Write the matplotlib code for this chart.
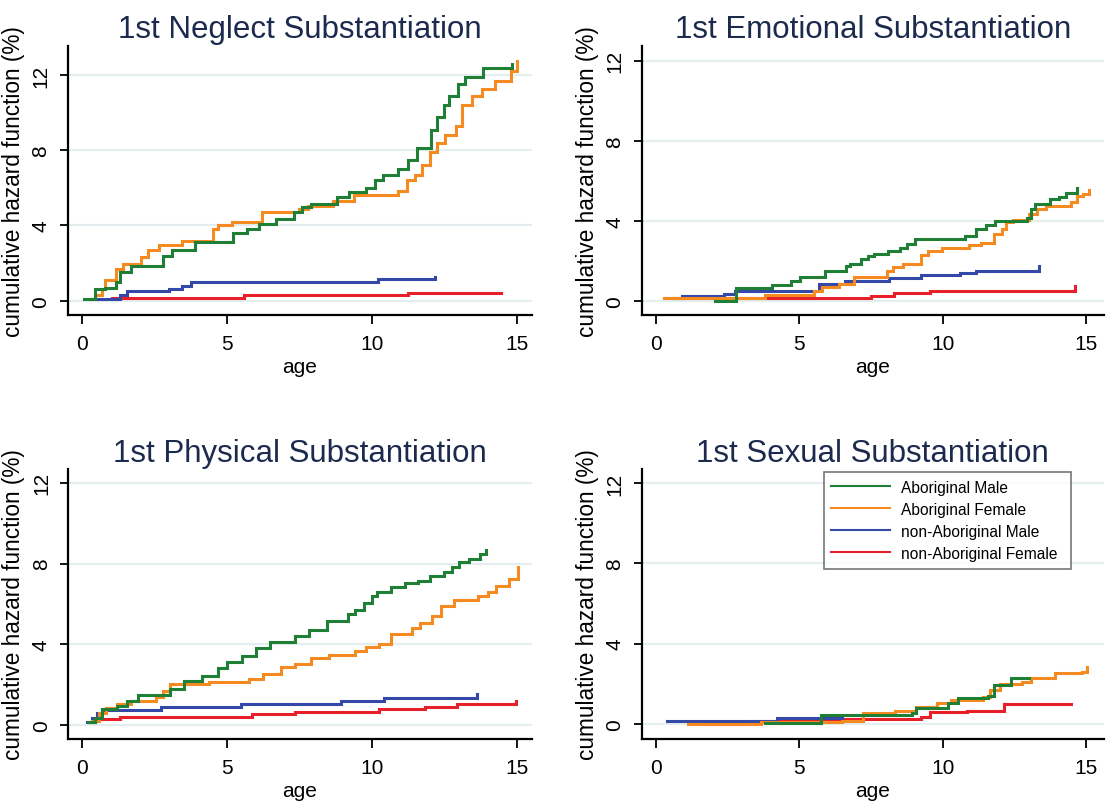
import matplotlib
matplotlib.use("Agg")
import matplotlib.pyplot as plt

plt.rcParams['font.family'] = ['Liberation Sans', 'DejaVu Sans']

# ---------------- data (step functions: age, cumulative hazard %) ----------------
series_names = ["Aboriginal Male", "Aboriginal Female", "non-Aboriginal Male", "non-Aboriginal Female"]
series_colors = ["#1f7f35", "#f58a20", "#3448a8", "#e8202a"]
panel_titles = ["1st Neglect Substantiation", "1st Emotional Substantiation",
                "1st Physical Substantiation", "1st Sexual Substantiation"]
x_ticks = [0, 5, 10, 15]
y_ticks = [0, 4, 8, 12]
x_label = "age"
y_label = "cumulative hazard function (%)"

# Neglect
neglect_am_age = [0.07, 0.45, 0.8, 1.18, 1.3, 1.67, 2.8, 3.1, 3.9, 5.2, 5.7, 6.1, 6.7, 7.3, 7.6, 7.9, 8.8, 9.2, 9.8, 10.1, 10.4, 10.9, 11.25, 11.56, 12.05, 12.24, 12.5, 12.67, 12.97, 13.2, 13.83, 14.85]
neglect_am_val = [0.1, 0.6, 0.7, 1.0, 1.5, 1.85, 2.4, 2.7, 3.1, 3.6, 3.8, 4.1, 4.35, 4.7, 5.0, 5.15, 5.5, 5.8, 6.0, 6.4, 6.7, 7.0, 7.5, 8.1, 9.1, 9.75, 10.4, 10.9, 11.5, 11.9, 12.35, 12.6]
neglect_af_age = [0.44, 0.69, 0.8, 1.18, 1.42, 2.04, 2.28, 2.65, 3.45, 4.5, 4.68, 5.17, 6.2, 7.5, 7.8, 8.67, 9.4, 10.9, 11.2, 11.5, 11.74, 12.0, 12.24, 12.54, 12.9, 13.1, 13.46, 13.8, 14.26, 14.8, 15.0]
neglect_af_val = [0.3, 0.6, 1.1, 1.7, 1.96, 2.3, 2.7, 2.94, 3.15, 3.8, 4.0, 4.2, 4.7, 4.9, 5.06, 5.3, 5.6, 5.86, 6.4, 6.7, 7.2, 7.9, 8.4, 8.8, 9.3, 10.4, 10.9, 11.25, 11.7, 12.2, 12.75]
neglect_nm_age = [0.26, 1.3, 1.55, 3.0, 3.45, 3.76, 10.2, 12.17]
neglect_nm_val = [0.1, 0.3, 0.5, 0.64, 0.8, 1.0, 1.13, 1.25]
neglect_nf_age = [1.03, 5.6, 11.25, 14.45]
neglect_nf_val = [0.14, 0.32, 0.42, 0.42]

# Emotional
emotional_am_age = [2.05, 2.81, 4.05, 4.7, 5.04, 5.9, 6.64, 6.77, 7.14, 7.4, 7.6, 8.1, 8.5, 8.74, 9.05, 10.78, 11.15, 11.5, 11.83, 12.94, 13.06, 13.2, 13.74, 14.05, 14.3, 14.67]
emotional_am_val = [0.0, 0.65, 0.8, 1.0, 1.18, 1.5, 1.76, 1.85, 2.1, 2.26, 2.35, 2.5, 2.67, 2.84, 3.12, 3.26, 3.62, 3.8, 4.0, 4.12, 4.6, 4.84, 5.1, 5.2, 5.4, 5.63]
emotional_af_age = [0.28, 3.8, 5.53, 5.8, 6.4, 6.9, 8.06, 8.25, 8.6, 9.23, 9.48, 9.98, 10.9, 11.33, 11.77, 12.07, 12.2, 12.44, 13.0, 13.3, 13.6, 14.48, 14.67, 14.9, 15.1]
emotional_af_val = [0.17, 0.3, 0.5, 0.68, 0.85, 1.18, 1.5, 1.68, 1.85, 2.3, 2.5, 2.67, 2.8, 2.92, 3.34, 3.6, 3.92, 4.04, 4.34, 4.6, 4.72, 4.92, 5.25, 5.33, 5.55]
emotional_nm_age = [0.6, 0.9, 2.38, 2.75, 5.7, 6.58, 8.12, 9.23, 10.6, 11.15, 13.25, 13.37]
emotional_nm_val = [0.13, 0.27, 0.35, 0.52, 0.85, 0.98, 1.13, 1.3, 1.4, 1.5, 1.5, 1.76]
emotional_nf_age = [0.78, 7.5, 8.3, 9.54, 14.54, 14.6]
emotional_nf_val = [0.13, 0.27, 0.4, 0.52, 0.52, 0.76]

# Physical
physical_am_age = [0.2, 0.44, 0.69, 1.18, 1.55, 1.92, 3.03, 3.52, 4.14, 4.69, 5.0, 5.5, 6.0, 6.48, 7.34, 7.83, 8.45, 9.19, 9.43, 9.74, 10.0, 10.17, 10.67, 11.16, 11.6, 12.0, 12.5, 12.76, 13.0, 13.37, 13.74, 13.93]
physical_am_val = [0.12, 0.36, 0.78, 0.94, 1.2, 1.5, 1.77, 2.19, 2.44, 2.8, 3.1, 3.43, 3.8, 4.1, 4.4, 4.72, 5.17, 5.5, 5.72, 6.05, 6.4, 6.6, 6.83, 7.04, 7.16, 7.4, 7.57, 7.82, 8.07, 8.24, 8.49, 8.65]
physical_af_age = [0.32, 0.57, 0.81, 1.18, 1.67, 2.54, 2.78, 3.03, 4.38, 5.74, 6.23, 6.85, 7.34, 7.9, 8.5, 9.43, 9.8, 10.23, 10.67, 11.4, 11.65, 12.08, 12.39, 12.82, 13.68, 14.0, 14.3, 14.73, 15.04]
physical_af_val = [0.2, 0.61, 0.83, 1.03, 1.19, 1.36, 1.66, 2.02, 2.14, 2.3, 2.52, 2.85, 3.02, 3.3, 3.46, 3.68, 3.85, 4.0, 4.5, 4.8, 5.06, 5.42, 5.92, 6.17, 6.41, 6.61, 6.91, 7.24, 7.82]
physical_nm_age = [0.14, 0.32, 0.5, 0.69, 2.72, 5.49, 8.94, 10.42, 13.55, 13.62]
physical_nm_val = [0.15, 0.36, 0.61, 0.75, 0.91, 1.03, 1.19, 1.31, 1.31, 1.52]
physical_nf_age = [0.26, 0.44, 1.3, 5.86, 7.34, 10.23, 11.83, 12.94, 14.9, 14.98]
physical_nf_val = [0.12, 0.28, 0.41, 0.53, 0.66, 0.78, 0.91, 1.03, 1.03, 1.19]

# Sexual
sexual_am_age = [3.8, 5.75, 8.94, 9.07, 10.17, 10.54, 11.58, 11.77, 12.38, 13.0]
sexual_am_val = [0.03, 0.45, 0.53, 0.81, 1.03, 1.28, 1.39, 1.94, 2.27, 2.3]
sexual_af_age = [1.14, 3.66, 6.49, 7.22, 8.33, 9.07, 9.8, 10.3, 11.4, 11.65, 12.0, 12.75, 13.06, 13.92, 14.84, 15.02]
sexual_af_val = [0.0, 0.12, 0.15, 0.53, 0.65, 0.86, 1.03, 1.19, 1.36, 1.69, 1.99, 2.1, 2.3, 2.52, 2.6, 2.85]
sexual_nm_age = [0.4, 4.21, 6.49]
sexual_nm_val = [0.15, 0.28, 0.28]
sexual_nf_age = [1.7, 3.17, 6.49, 9.25, 9.56, 10.85, 12.14, 14.47]
sexual_nf_val = [0.0, 0.15, 0.25, 0.36, 0.58, 0.66, 0.98, 0.98]

panel_data = [
    [(neglect_am_age, neglect_am_val), (neglect_af_age, neglect_af_val),
     (neglect_nm_age, neglect_nm_val), (neglect_nf_age, neglect_nf_val)],
    [(emotional_am_age, emotional_am_val), (emotional_af_age, emotional_af_val),
     (emotional_nm_age, emotional_nm_val), (emotional_nf_age, emotional_nf_val)],
    [(physical_am_age, physical_am_val), (physical_af_age, physical_af_val),
     (physical_nm_age, physical_nm_val), (physical_nf_age, physical_nf_val)],
    [(sexual_am_age, sexual_am_val), (sexual_af_age, sexual_af_val),
     (sexual_nm_age, sexual_nm_val), (sexual_nf_age, sexual_nf_val)],
]

# ---------------- layout ----------------
W, H = 1112, 803
fig = plt.figure(figsize=(W / 100, H / 100), dpi=100)
fig.patch.set_facecolor("white")

# axes rectangles in pixels (left, right, top, bottom)
rects = [(67.7, 531.7, 46.7, 316), (641.7, 1104, 46.7, 316),
         (68, 531.7, 470, 740), (641.7, 1104, 470, 740)]
xlims = [(-0.50, 15.52), (-0.49, 15.62), (-0.50, 15.52), (-0.49, 15.62)]
ylims = [(-0.76, 13.56), (-0.70, 12.75), (-0.70, 12.69), (-0.75, 12.70)]

title_color = "#1c2a4e"
grid_color = "#e4edef"

axes = []
for i in range(4):
    l, r, t, b = rects[i]
    ax = fig.add_axes([l / W, (H - b) / H, (r - l) / W, (b - t) / H])
    axes.append(ax)
    for s in ("top", "right"):
        ax.spines[s].set_visible(False)
    for s in ("left", "bottom"):
        ax.spines[s].set_linewidth(1.6)
        ax.spines[s].set_color("black")
    for yv in y_ticks:
        ax.axhline(yv, color=grid_color, lw=1.6, zorder=0)
    lines = []
    for k, (ages, vals) in enumerate(panel_data[i]):
        ln, = ax.plot(ages, vals, drawstyle="steps-post", color=series_colors[k],
                      lw=2.2, solid_joinstyle="miter", zorder=3 + (3 - k) * 0.1)
        lines.append(ln)
    ax.set_xlim(*xlims[i])
    ax.set_ylim(*ylims[i])
    ax.set_xticks(x_ticks)
    ax.set_yticks(y_ticks)
    ax.tick_params(axis="x", direction="out", length=6.5, width=1.3, labelsize=15, pad=7)
    ax.tick_params(axis="y", direction="out", length=5.8, width=1.3, labelsize=15, pad=6.5)
    for lab in ax.get_yticklabels():
        lab.set_rotation(90)
        lab.set_va("center")
    ax.set_xlabel(x_label, fontsize=15, labelpad=3)
    ax.set_ylabel(y_label, fontsize=16.3, labelpad=5)
    ax.set_title(panel_titles[i], fontsize=22.5, color=title_color, pad=6)
    if i == 3:
        leg = ax.legend(lines, series_names, loc="upper left", mode="expand",
                        bbox_to_anchor=(823.5 / W, (H - 569) / H, 247.5 / W, 96 / H),
                        bbox_transform=fig.transFigure, fontsize=11.2,
                        frameon=True, fancybox=False, handlelength=3.8,
                        labelspacing=0.45, borderpad=0.5, handletextpad=0.7,
                        borderaxespad=0)
        leg.get_frame().set_edgecolor("#555555")
        leg.get_frame().set_linewidth(1.2)
        for h in leg.get_lines():
            h.set_linewidth(1.5)

fig.savefig("out.png", dpi=100, facecolor="white")
